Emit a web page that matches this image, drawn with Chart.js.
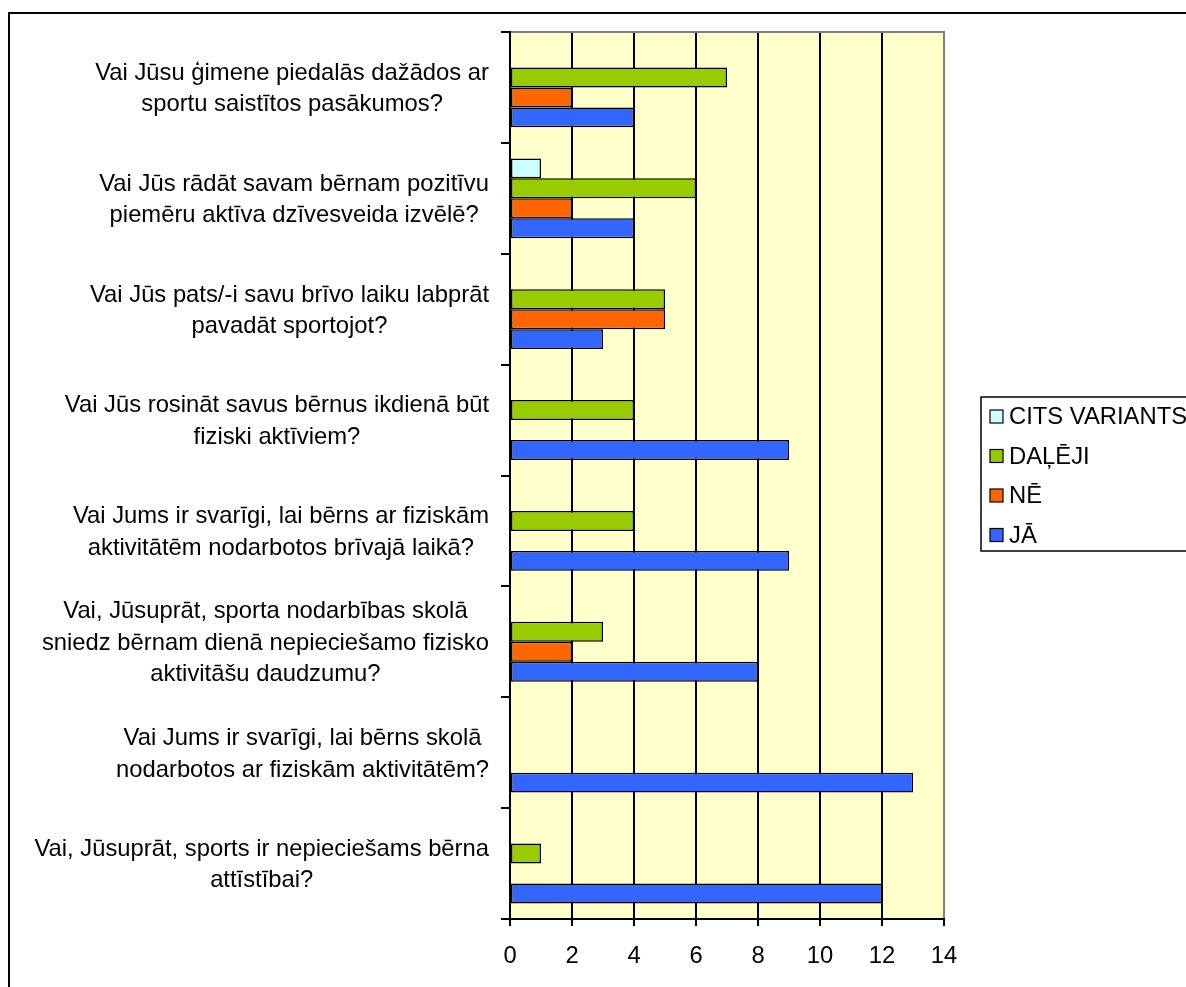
<!DOCTYPE html>
<html>
<head>
<meta charset="utf-8">
<title>Aptauja</title>
<script src="https://cdn.jsdelivr.net/npm/chart.js@4.4.0/dist/chart.umd.min.js"></script>
<style>
    html, body { margin: 0; padding: 0; background: #fff; }
    canvas { display: block; }
</style>
</head>
<body>
<canvas id="grafiks" width="1186" height="987"></canvas>
<script>
// jautājumi (katra rinda atsevišķi)
const jautajumi = [
    ['Vai Jūsu ģimene piedalās dažādos ar', 'sportu saistītos pasākumos?'],
    ['Vai Jūs rādāt savam bērnam pozitīvu', 'piemēru aktīva dzīvesveida izvēlē?'],
    ['Vai Jūs pats/-i savu brīvo laiku labprāt', 'pavadāt sportojot?'],
    ['Vai Jūs rosināt savus bērnus ikdienā būt', 'fiziski aktīviem?'],
    ['Vai Jums ir svarīgi, lai bērns ar fiziskām', 'aktivitātēm nodarbotos brīvajā laikā?'],
    ['Vai, Jūsuprāt, sporta nodarbības skolā', 'sniedz bērnam dienā nepieciešamo fizisko', 'aktivitāšu daudzumu?'],
    ['Vai Jums ir svarīgi, lai bērns skolā', 'nodarbotos ar fiziskām aktivitātēm?'],
    ['Vai, Jūsuprāt, sports ir nepieciešams bērna', 'attīstībai?']
];

const citsVariants = [0, 1, 0, 0, 0, 0, 0, 0];
const daleji       = [7, 6, 5, 4, 4, 3, 0, 1];
const ne           = [2, 2, 5, 0, 0, 2, 0, 0];
const ja           = [4, 4, 3, 9, 9, 8, 13, 12];

const asisVertibas = [0, 2, 4, 6, 8, 10, 12, 14];

const FONTS = '"Liberation Sans", Arial, sans-serif';
const IZMERS = 23.8;

const datuKopas = [
    { label: 'CITS VARIANTS', data: citsVariants, backgroundColor: '#CCFFFF' },
    { label: 'DAĻĒJI', data: daleji, backgroundColor: '#99CC00' },
    { label: 'NĒ', data: ne, backgroundColor: '#FF6600' },
    { label: 'JĀ', data: ja, backgroundColor: '#3366FF' }
];

// fons, rāmji, kategoriju teksti un leģenda
const zimejumi = {
    id: 'zimejumi',
    beforeDraw(chart) {
        const ctx = chart.ctx;
        const a = chart.chartArea;
        ctx.save();
        ctx.fillStyle = '#fff';
        ctx.fillRect(0, 0, chart.width, chart.height);
        ctx.strokeStyle = '#000';
        ctx.lineWidth = 2;
        ctx.strokeRect(9, 13, chart.width + 20, chart.height + 20);
        ctx.fillStyle = '#FFFFCC';
        ctx.fillRect(a.left, a.top, a.right - a.left, a.bottom - a.top);
        ctx.restore();
    },
    afterDraw(chart) {
        const ctx = chart.ctx;
        const a = chart.chartArea;
        const yScale = chart.scales.y;
        ctx.save();

        // pelēkā augšējā un labā mala
        ctx.strokeStyle = '#808080';
        ctx.lineWidth = 2;
        ctx.beginPath();
        ctx.moveTo(a.left + 1, a.top);
        ctx.lineTo(a.right, a.top);
        ctx.lineTo(a.right, a.bottom - 1);
        ctx.stroke();

        // kategoriju nosaukumi: bloks pie labās malas, rindas centrētas
        ctx.font = IZMERS + 'px ' + FONTS;
        ctx.fillStyle = '#000';
        ctx.textAlign = 'center';
        ctx.textBaseline = 'middle';
        const labaMala = a.left - 21;
        const rindasAugstums = 31.5;
        jautajumi.forEach((rindas, i) => {
            const yc = yScale.getPixelForValue(i) + 1.5;
            const platums = Math.max(...rindas.map(r => ctx.measureText(r).width));
            const xc = labaMala - platums / 2;
            rindas.forEach((r, j) => {
                ctx.fillText(r, xc, yc + (j - (rindas.length - 1) / 2) * rindasAugstums);
            });
        });

        // leģenda
        const lx = 981, ly = 397, lh = 154;
        ctx.fillStyle = '#fff';
        ctx.fillRect(lx, ly, chart.width - lx + 10, lh);
        ctx.strokeStyle = '#000';
        ctx.lineWidth = 1.5;
        ctx.strokeRect(lx, ly, chart.width - lx + 10, lh);
        ctx.textAlign = 'left';
        chart.data.datasets.forEach((ds, i) => {
            const yc = 416.5 + i * 39.5;
            ctx.fillStyle = ds.backgroundColor;
            ctx.fillRect(990, yc - 6.5, 13, 13);
            ctx.strokeStyle = '#000';
            ctx.lineWidth = 1.2;
            ctx.strokeRect(990, yc - 6.5, 13, 13);
            ctx.fillStyle = '#000';
            ctx.fillText(ds.label, 1009, yc + 1);
        });
        ctx.restore();
    }
};

const ctx = document.getElementById('grafiks').getContext('2d');
new Chart(ctx, {
    type: 'bar',
    data: {
        labels: jautajumi.map(r => r.join(' ')),
        datasets: datuKopas.map(d => Object.assign({
            borderColor: '#000',
            borderWidth: 1.5,
            borderSkipped: false,
            barPercentage: 1,
            categoryPercentage: 0.72
        }, d))
    },
    options: {
        indexAxis: 'y',
        responsive: false,
        animation: false,
        devicePixelRatio: 1,
        layout: { padding: { top: 32, right: 242, bottom: 0, left: 0 } },
        plugins: {
            legend: { display: false },
            tooltip: { enabled: true }
        },
        scales: {
            x: {
                min: asisVertibas[0],
                max: asisVertibas[asisVertibas.length - 1],
                afterFit(scale) { scale.height = 68; },
                afterBuildTicks(scale) {
                    scale.ticks = asisVertibas.map(v => ({ value: v }));
                },
                ticks: {
                    color: '#000',
                    padding: 16,
                    font: { family: FONTS, size: IZMERS }
                },
                grid: {
                    color: '#000',
                    lineWidth: 2,
                    tickLength: 7
                },
                border: { color: '#000', width: 2 }
            },
            y: {
                afterFit(scale) { scale.width = 510; },
                ticks: { display: false },
                grid: {
                    drawOnChartArea: false,
                    color: '#000',
                    lineWidth: 2,
                    tickLength: 9,
                    offset: true
                },
                border: { color: '#000', width: 2 }
            }
        }
    },
    plugins: [zimejumi]
});
</script>
</body>
</html>
